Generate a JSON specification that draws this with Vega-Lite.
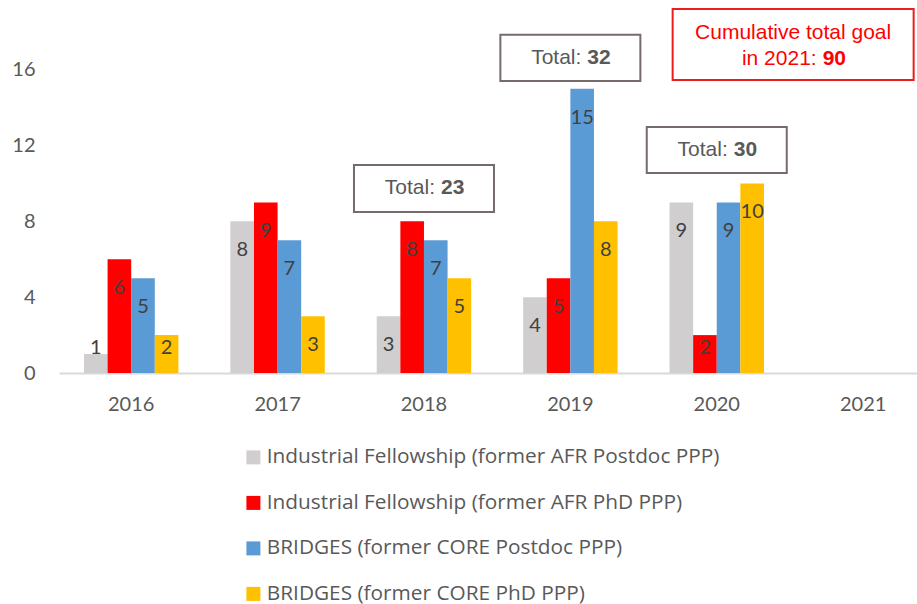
{
  "$schema": "https://vega.github.io/schema/vega-lite/v6.json",
  "width": 858,
  "height": 373,
  "autosize": {"type": "none"},
  "padding": {"left": 59, "top": 0, "right": 0, "bottom": 231},
  "background": "white",
  "config": {"view": {"stroke": null}},
  "datasets": {
    "bars": [
      {"year": "2016", "series": "Industrial Fellowship (former AFR Postdoc PPP)", "value": 1},
      {"year": "2016", "series": "Industrial Fellowship (former AFR PhD PPP)", "value": 6},
      {"year": "2016", "series": "BRIDGES (former CORE Postdoc PPP)", "value": 5},
      {"year": "2016", "series": "BRIDGES (former CORE PhD PPP)", "value": 2},
      {"year": "2017", "series": "Industrial Fellowship (former AFR Postdoc PPP)", "value": 8},
      {"year": "2017", "series": "Industrial Fellowship (former AFR PhD PPP)", "value": 9},
      {"year": "2017", "series": "BRIDGES (former CORE Postdoc PPP)", "value": 7},
      {"year": "2017", "series": "BRIDGES (former CORE PhD PPP)", "value": 3},
      {"year": "2018", "series": "Industrial Fellowship (former AFR Postdoc PPP)", "value": 3},
      {"year": "2018", "series": "Industrial Fellowship (former AFR PhD PPP)", "value": 8},
      {"year": "2018", "series": "BRIDGES (former CORE Postdoc PPP)", "value": 7},
      {"year": "2018", "series": "BRIDGES (former CORE PhD PPP)", "value": 5},
      {"year": "2019", "series": "Industrial Fellowship (former AFR Postdoc PPP)", "value": 4},
      {"year": "2019", "series": "Industrial Fellowship (former AFR PhD PPP)", "value": 5},
      {"year": "2019", "series": "BRIDGES (former CORE Postdoc PPP)", "value": 15},
      {"year": "2019", "series": "BRIDGES (former CORE PhD PPP)", "value": 8},
      {"year": "2020", "series": "Industrial Fellowship (former AFR Postdoc PPP)", "value": 9},
      {"year": "2020", "series": "Industrial Fellowship (former AFR PhD PPP)", "value": 2},
      {"year": "2020", "series": "BRIDGES (former CORE Postdoc PPP)", "value": 9},
      {"year": "2020", "series": "BRIDGES (former CORE PhD PPP)", "value": 10}
    ],
    "totals": [
      {"year": "2018", "total": "23"},
      {"year": "2019", "total": "32"},
      {"year": "2020", "total": "30"}
    ],
    "goal": [
      {"year": "2021", "line1": "Cumulative total goal", "line2": "in 2021:", "goal": "90"}
    ]
  },
  "encoding": {
    "x": {
      "field": "year",
      "type": "nominal",
      "scale": {"domain": ["2016", "2017", "2018", "2019", "2020", "2021"], "paddingInner": 0.355, "paddingOuter": 0.108, "align": 0.79},
      "axis": {"title": null, "labelAngle": 0, "ticks": false, "domainColor": "#D9D9D9", "domainWidth": 2, "labelFont": "Lato", "labelFontSize": 20, "labelColor": "#595959", "labelPadding": 21}
    }
  },
  "layer": [
    {
      "data": {"name": "bars"},
      "mark": {"type": "bar"},
      "encoding": {
        "xOffset": {"field": "series", "type": "nominal", "sort": null, "scale": {"paddingInner": 0, "paddingOuter": 0, "domain": ["Industrial Fellowship (former AFR Postdoc PPP)", "Industrial Fellowship (former AFR PhD PPP)", "BRIDGES (former CORE Postdoc PPP)", "BRIDGES (former CORE PhD PPP)"]}},
        "y": {
          "field": "value",
          "type": "quantitative",
          "scale": {"domain": [0, 19.68], "nice": false, "zero": true},
          "axis": {"title": null, "values": [0, 4, 8, 12, 16], "grid": false, "domain": false, "ticks": false, "labelFont": "Lato", "labelFontSize": 20, "labelColor": "#595959", "labelPadding": 24}
        },
        "color": {
          "field": "series",
          "type": "nominal",
          "scale": {
            "domain": ["Industrial Fellowship (former AFR Postdoc PPP)", "Industrial Fellowship (former AFR PhD PPP)", "BRIDGES (former CORE Postdoc PPP)", "BRIDGES (former CORE PhD PPP)"],
            "range": ["#D0CECE", "#FF0000", "#5B9BD5", "#FFC000"]
          },
          "legend": {
            "title": null,
            "orient": "none",
            "legendX": 184,
            "legendY": 447,
            "direction": "vertical",
            "padding": 0,
            "symbolType": "square",
            "symbolSize": 196,
            "symbolStrokeWidth": 0,
            "labelFont": "Open Sans",
            "labelFontSize": 20.8,
            "labelColor": "#595959",
            "labelOffset": 3,
            "labelLimit": 700,
            "rowPadding": 23.5
          }
        }
      }
    },
    {
      "data": {"name": "bars"},
      "transform": [{"filter": "datum.value >= 3"}],
      "mark": {"type": "text", "baseline": "middle", "align": "center", "dy": 29, "font": "Lato", "fontSize": 20, "color": "#404040"},
      "encoding": {
        "xOffset": {"field": "series", "type": "nominal", "sort": null},
        "y": {"field": "value", "type": "quantitative"},
        "text": {"field": "value", "type": "quantitative"}
      }
    },
    {
      "data": {"name": "bars"},
      "transform": [{"filter": "datum.value < 3"}],
      "mark": {"type": "text", "baseline": "middle", "align": "center", "dy": -25, "font": "Lato", "fontSize": 20, "color": "#404040"},
      "encoding": {
        "xOffset": {"field": "series", "type": "nominal", "sort": null},
        "y": {"datum": 0, "type": "quantitative"},
        "text": {"field": "value", "type": "quantitative"}
      }
    },
    {
      "data": {"name": "totals"},
      "transform": [{"filter": "datum.year == '2018'"}],
      "layer": [
        {"mark": {"type": "bar", "width": 140, "fill": "white", "stroke": "#756B6B", "strokeWidth": 2},
         "encoding": {"y": {"datum": 10.98, "type": "quantitative"}, "y2": {"datum": 8.5}}},
        {"mark": {"type": "text", "align": "right", "baseline": "middle", "dx": 11, "font": "Liberation Sans", "fontSize": 21, "color": "#595959"},
         "encoding": {"y": {"datum": 9.74, "type": "quantitative"}, "text": {"value": "Total:"}}},
        {"mark": {"type": "text", "align": "left", "baseline": "middle", "dx": 17, "font": "Liberation Sans", "fontSize": 21, "fontWeight": "bold", "color": "#595959"},
         "encoding": {"y": {"datum": 9.74, "type": "quantitative"}, "text": {"field": "total"}}}
      ]
    },
    {
      "data": {"name": "totals"},
      "transform": [{"filter": "datum.year == '2019'"}],
      "layer": [
        {"mark": {"type": "bar", "width": 140, "fill": "white", "stroke": "#756B6B", "strokeWidth": 2},
         "encoding": {"y": {"datum": 17.84, "type": "quantitative"}, "y2": {"datum": 15.41}}},
        {"mark": {"type": "text", "align": "right", "baseline": "middle", "dx": 11, "font": "Liberation Sans", "fontSize": 21, "color": "#595959"},
         "encoding": {"y": {"datum": 16.62, "type": "quantitative"}, "text": {"value": "Total:"}}},
        {"mark": {"type": "text", "align": "left", "baseline": "middle", "dx": 17, "font": "Liberation Sans", "fontSize": 21, "fontWeight": "bold", "color": "#595959"},
         "encoding": {"y": {"datum": 16.62, "type": "quantitative"}, "text": {"field": "total"}}}
      ]
    },
    {
      "data": {"name": "totals"},
      "transform": [{"filter": "datum.year == '2020'"}],
      "layer": [
        {"mark": {"type": "bar", "width": 140, "fill": "white", "stroke": "#756B6B", "strokeWidth": 2},
         "encoding": {"y": {"datum": 12.98, "type": "quantitative"}, "y2": {"datum": 10.55}}},
        {"mark": {"type": "text", "align": "right", "baseline": "middle", "dx": 11, "font": "Liberation Sans", "fontSize": 21, "color": "#595959"},
         "encoding": {"y": {"datum": 11.77, "type": "quantitative"}, "text": {"value": "Total:"}}},
        {"mark": {"type": "text", "align": "left", "baseline": "middle", "dx": 17, "font": "Liberation Sans", "fontSize": 21, "fontWeight": "bold", "color": "#595959"},
         "encoding": {"y": {"datum": 11.77, "type": "quantitative"}, "text": {"field": "total"}}}
      ]
    },
    {
      "data": {"name": "goal"},
      "layer": [
        {"mark": {"type": "bar", "width": 241, "xOffset": -70, "fill": "white", "stroke": "#EE1C1C", "strokeWidth": 2},
         "encoding": {"y": {"datum": 19.21, "type": "quantitative"}, "y2": {"datum": 15.46}}},
        {"mark": {"type": "text", "align": "center", "baseline": "middle", "dx": -70, "font": "Liberation Sans", "fontSize": 21, "color": "#FF0000"},
         "encoding": {"y": {"datum": 17.94, "type": "quantitative"}, "text": {"field": "line1"}}},
        {"mark": {"type": "text", "align": "right", "baseline": "middle", "dx": -46.5, "font": "Liberation Sans", "fontSize": 21, "color": "#FF0000"},
         "encoding": {"y": {"datum": 16.55, "type": "quantitative"}, "text": {"field": "line2"}}},
        {"mark": {"type": "text", "align": "left", "baseline": "middle", "dx": -40.5, "font": "Liberation Sans", "fontSize": 21, "fontWeight": "bold", "color": "#FF0000"},
         "encoding": {"y": {"datum": 16.55, "type": "quantitative"}, "text": {"field": "goal"}}}
      ]
    }
  ]
}
